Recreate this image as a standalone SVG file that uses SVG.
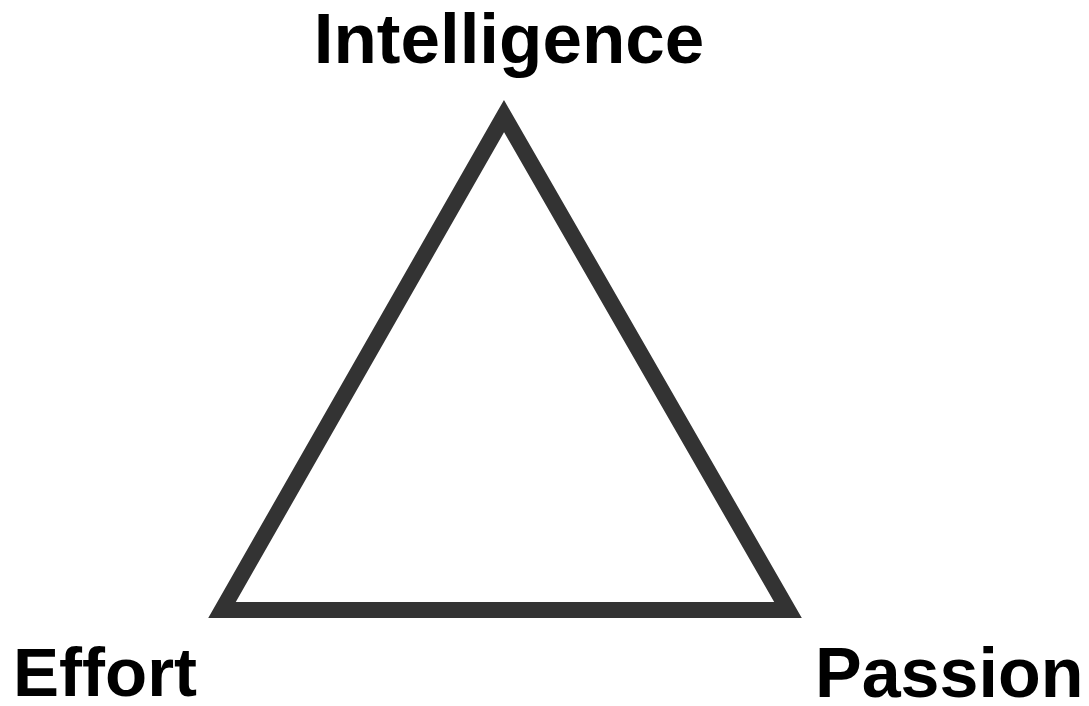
<svg xmlns="http://www.w3.org/2000/svg" width="1089" height="706" viewBox="0 0 1089 706">
<style>
.lbl{font-family:"Liberation Sans",Arial,sans-serif;font-weight:bold;fill:#000}
.tri{fill:#fff;stroke:#333;stroke-width:16;stroke-linejoin:miter}
</style>
<rect width="1089" height="706" fill="#fff"/>
<g id="connectors">
<polygon class="tri" points="504,116 222,610 788,610"/>
</g>
<g id="intelligence"><text class="lbl" x="509" y="63" font-size="71" text-anchor="middle">Intelligence</text></g>
<g id="effort"><text class="lbl" x="13" y="696" font-size="69">Effort</text></g>
<g id="passion"><text class="lbl" x="815" y="697" font-size="70">Passion</text></g>
</svg>
